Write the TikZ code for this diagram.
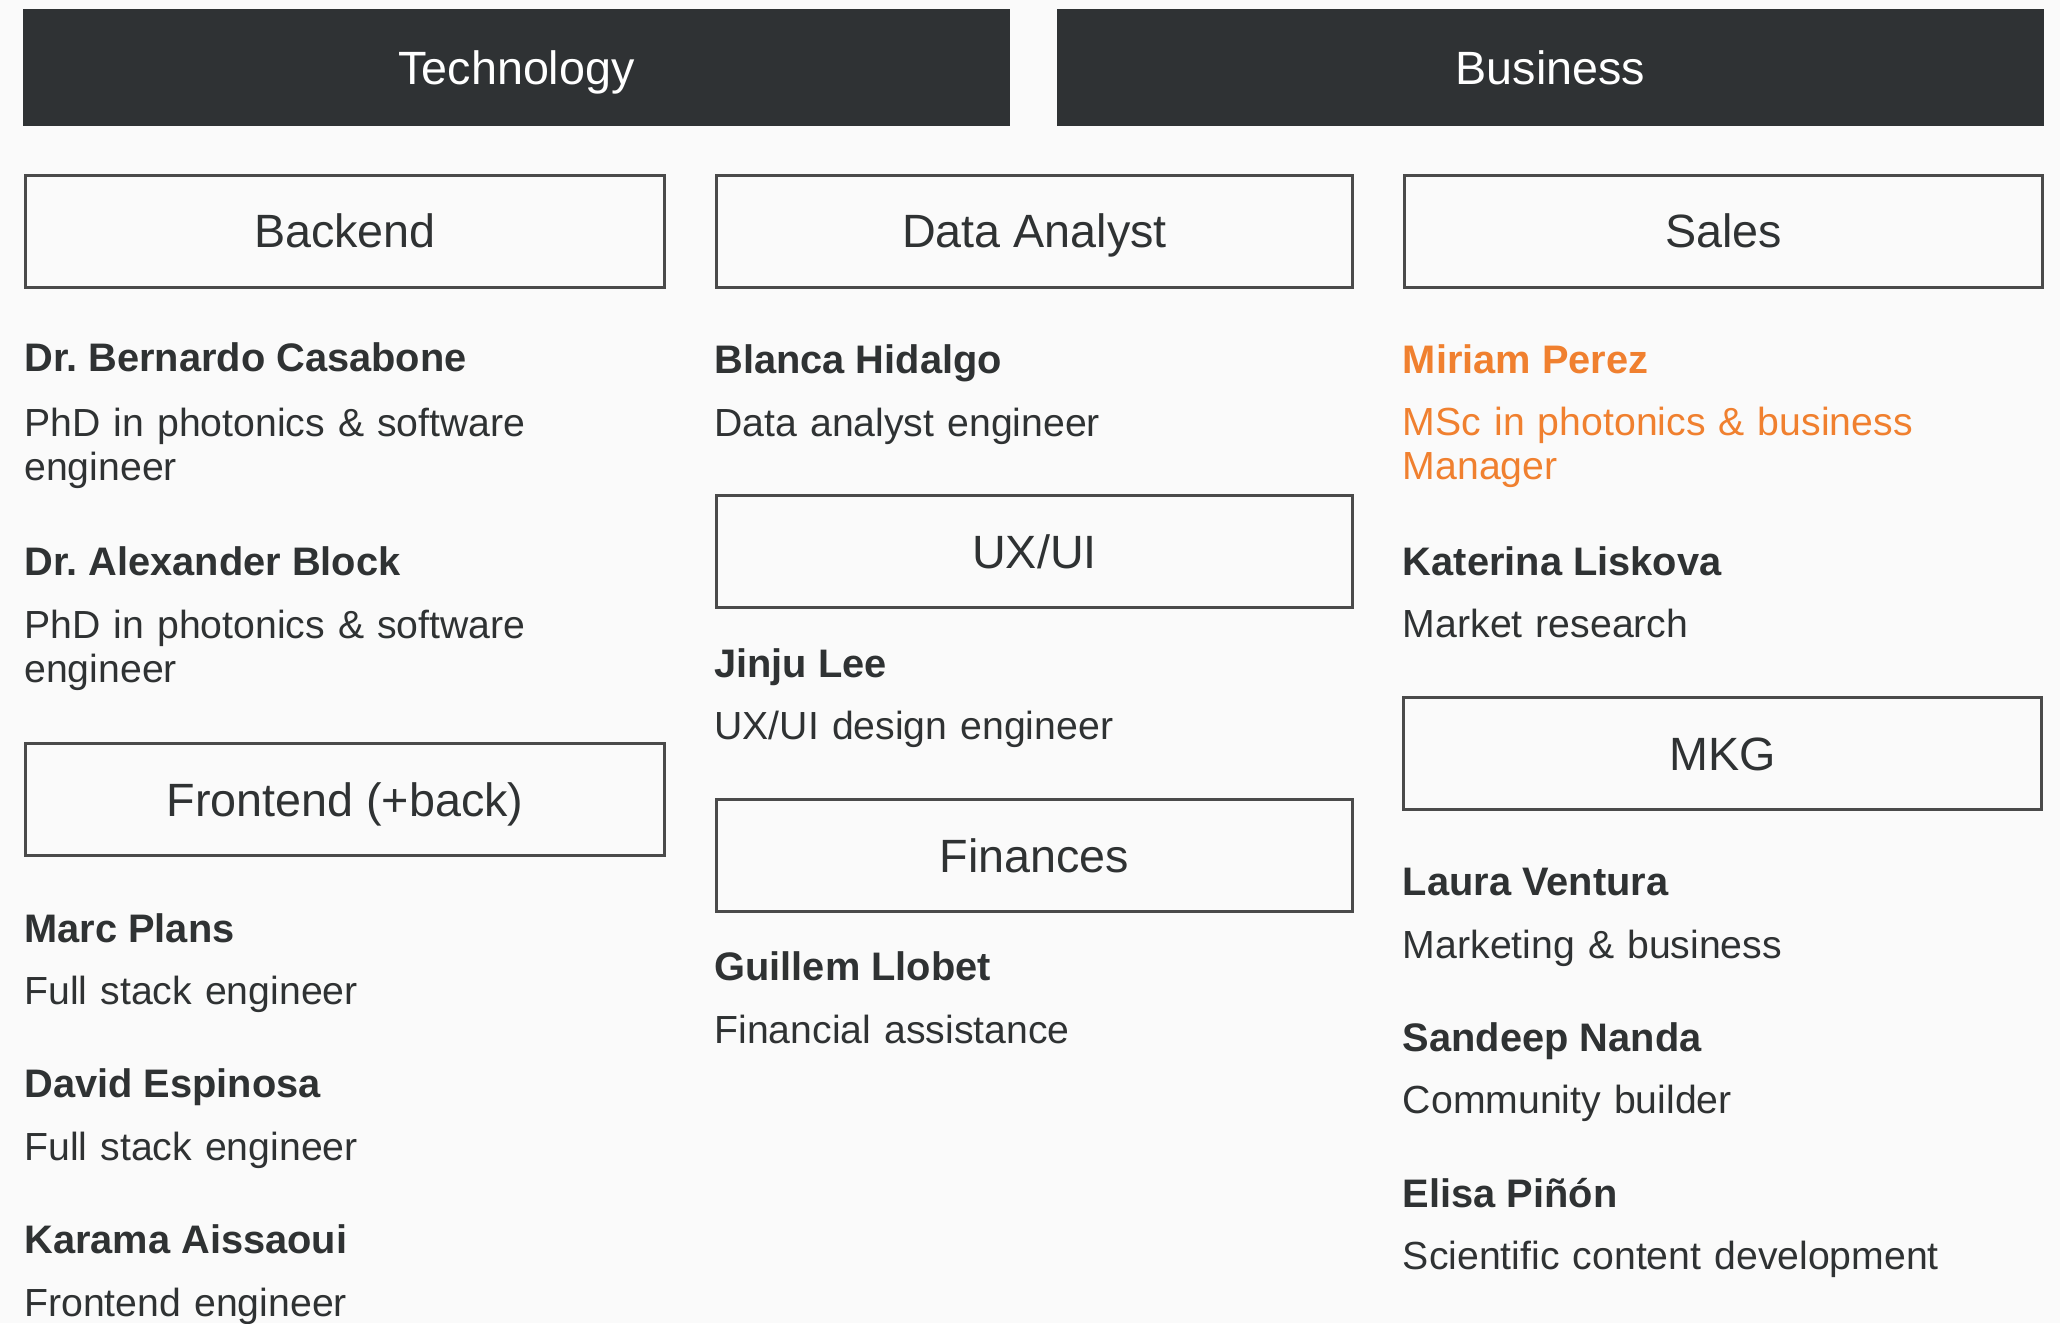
\documentclass[tikz,border=0pt]{standalone}
\usepackage{fontspec}
\setmainfont{Liberation Sans}
\definecolor{bgc}{HTML}{FAFAFA}
\definecolor{barc}{HTML}{2F3234}
\definecolor{txtc}{HTML}{2F3233}
\definecolor{boxc}{HTML}{4A4A4A}
\definecolor{orangec}{HTML}{F0802F}
\frenchspacing
\begin{document}
\begin{tikzpicture}[x=0.5pt,y=-0.5pt,
  bar/.style={fill=barc, text=white, minimum width=493.5pt, minimum height=58.5pt, inner sep=0pt,
    font=\fontsize{23.35}{28}\selectfont, text height=16.7pt, text depth=0pt},
  groupbox/.style={draw=boxc, line width=1.5pt, fill=bgc, text=txtc, minimum height=56pt, inner sep=0pt,
    font=\fontsize{23.35}{28}\selectfont, text height=16.7pt, text depth=0pt},
  person/.style={anchor=base west, inner sep=0pt, text=txtc, font=\bfseries\fontsize{19.9}{22}\selectfont},
  role/.style={anchor=base west, inner sep=0pt, text=txtc, text width=320pt, align=left, font=\fontsize{19.6}{22}\selectfont},
  hl/.style={text=orangec}]
\useasboundingbox[fill=bgc] (0,0) rectangle (2060,1323);

% header bars
\node[bar] (tech) at (516.5,67.5) {Technology};
\node[bar] (biz) at (1550.5,67.5) {Business};

% group boxes
\node[groupbox, minimum width=319.5pt] (backend) at (345,231) {Backend};
\node[groupbox, minimum width=318pt] (data) at (1034.5,231) {Data Analyst};
\node[groupbox, minimum width=319pt] (sales) at (1723.5,231) {Sales};
\node[groupbox, minimum width=319.5pt] (front) at (345,799.5) {Frontend (+back)};
\node[groupbox, minimum width=318pt] (ux) at (1034.5,551.5) {UX/UI};
\node[groupbox, minimum width=318pt] (fin) at (1034.5,855.5) {Finances};
\node[groupbox, minimum width=319pt] (mkg) at (1722.5,753.5) {MKG};

% left column
\node[person] (p1) at (24,371) {Dr. Bernardo Casabone};
\node[role] (r1) at (24,436) {PhD in photonics \& software\\engineer};
\node[person] (p2) at (24,575) {Dr. Alexander Block};
\node[role] (r2) at (24,638) {PhD in photonics \& software\\engineer};
\node[person] (p3) at (24,942) {Marc Plans};
\node[role] (r3) at (24,1004) {Full stack engineer};
\node[person] (p4) at (24,1097) {David Espinosa};
\node[role] (r4) at (24,1160) {Full stack engineer};
\node[person] (p5) at (24,1253) {Karama Aissaoui};
\node[role] (r5) at (24,1316) {Frontend engineer};

% middle column
\node[person] (p6) at (714,373) {Blanca Hidalgo};
\node[role] (r6) at (714,436) {Data analyst engineer};
\node[person] (p7) at (714,677) {Jinju Lee};
\node[role] (r7) at (714,739) {UX/UI design engineer};
\node[person] (p8) at (714,980) {Guillem Llobet};
\node[role] (r8) at (714,1043) {Financial assistance};

% right column
\node[person, hl] (p9) at (1402.5,373) {Miriam Perez};
\node[role, hl] (r9) at (1402.5,435) {MSc in photonics \& business\\Manager};
\node[person] (p10) at (1402.5,575) {Katerina Liskova};
\node[role] (r10) at (1402.5,637) {Market research};
\node[person] (p11) at (1402.5,895) {Laura Ventura};
\node[role] (r11) at (1402.5,958) {Marketing \& business};
\node[person] (p12) at (1402.5,1051) {Sandeep Nanda};
\node[role] (r12) at (1402.5,1113) {Community builder};
\node[person] (p13) at (1402.5,1207) {Elisa Piñón};
\node[role] (r13) at (1402.5,1269) {Scientific content development};
\end{tikzpicture}
\end{document}
